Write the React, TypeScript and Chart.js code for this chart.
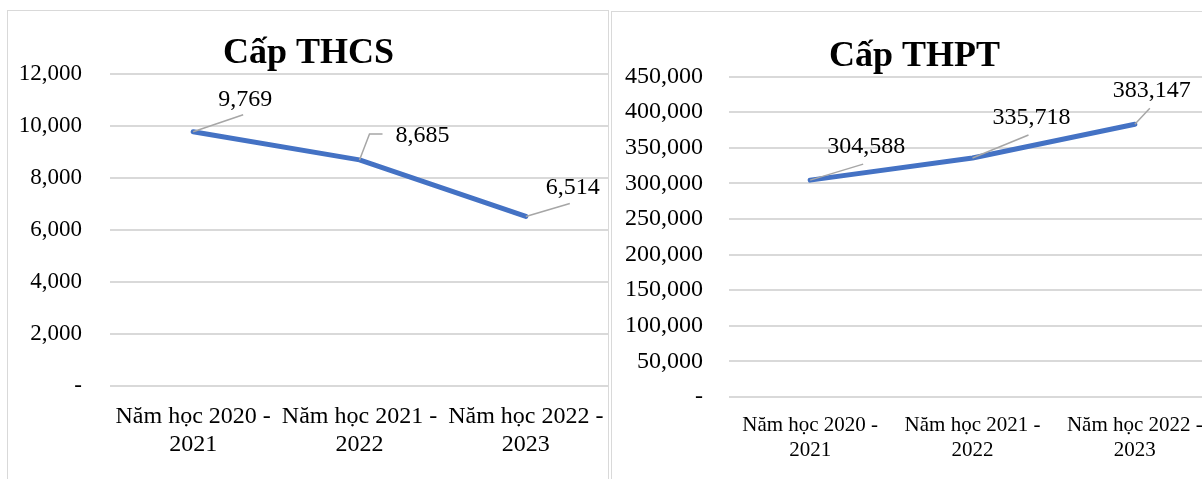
import React, { useEffect, useRef } from "react";
import { Chart, registerables } from "chart.js";

Chart.register(...registerables);

const categories: string[][] = [
  ["Năm học 2020 -", "2021"],
  ["Năm học 2021 -", "2022"],
  ["Năm học 2022 -", "2023"],
];
const thcsValues: number[] = [9769, 8685, 6514];
const thptValues: number[] = [304588, 335718, 383147];
const thcsTicks = { max: 12000, step: 2000 };
const thptTicks = { max: 450000, step: 50000 };

// label placement styles (pixel offsets from the point)
type LabelStyle = { line: number[][]; text: number[] };
const thcsLabelStyle: LabelStyle[] = [
  { line: [[50, -17]], text: [52, -32] },
  { line: [[10, -26], [23, -26]], text: [63, -24] },
  { line: [[44, -13]], text: [47, -29] },
];
const thptLabelStyle: LabelStyle[] = [
  { line: [[53, -16]], text: [56, -33] },
  { line: [[56, -23]], text: [59, -40] },
  { line: [[15, -16]], text: [17, -33] },
];

const fmt = (v: number) => (v === 0 ? "-" : v.toLocaleString("en-US"));
const SERIF = "'Liberation Serif', 'Times New Roman', serif";

function makeLabelPlugin(styles: LabelStyle[], fontSize: number) {
  return {
    id: "leaderLabels",
    afterDatasetsDraw(chart: any) {
      const ctx = chart.ctx;
      const meta = chart.getDatasetMeta(0);
      const data = chart.data.datasets[0].data as number[];
      ctx.save();
      meta.data.forEach((pt: any, i: number) => {
        const st = styles[i];
        ctx.strokeStyle = "#a6a6a6";
        ctx.lineWidth = 1.5;
        ctx.beginPath();
        ctx.moveTo(pt.x, pt.y);
        st.line.forEach((o) => ctx.lineTo(pt.x + o[0], pt.y + o[1]));
        ctx.stroke();
        ctx.fillStyle = "#000";
        ctx.font = `${fontSize}px ${SERIF}`;
        ctx.textAlign = "center";
        ctx.textBaseline = "middle";
        ctx.fillText(fmt(data[i]), pt.x + st.text[0], pt.y + st.text[1]);
      });
      ctx.restore();
    },
  };
}

type Cfg = {
  title: string;
  values: number[];
  ticks: { max: number; step: number };
  styles: LabelStyle[];
  yWidth: number;
  xHeight: number;
  titlePad: { top: number; bottom: number };
  xFont: number;
  yFont: number;
  yPad: number;
  xPad: number;
};

function LineChart(props: { cfg: Cfg; width: number; height: number }) {
  const ref = useRef<HTMLCanvasElement>(null);
  const { cfg } = props;
  useEffect(() => {
    if (!ref.current) return;
    const chart = new Chart(ref.current, {
      type: "line",
      data: {
        labels: categories,
        datasets: [
          {
            data: cfg.values,
            borderColor: "#4472c4",
            borderWidth: 5,
            pointRadius: 0,
            borderCapStyle: "round",
            borderJoinStyle: "round",
            tension: 0,
          },
        ],
      },
      options: {
        responsive: false,
        animation: false,
        layout: { padding: 0 },
        plugins: {
          legend: { display: false },
          tooltip: { enabled: false },
          title: {
            display: true,
            text: cfg.title,
            color: "#000",
            font: { family: SERIF, size: 36, weight: "bold", lineHeight: 1.1 },
            padding: cfg.titlePad,
          },
        },
        scales: {
          x: {
            offset: true,
            grid: { display: false, drawTicks: false, offset: true },
            border: { display: false },
            ticks: {
              color: "#000",
              font: { family: SERIF, size: cfg.xFont, lineHeight: 1.2 },
              padding: cfg.xPad,
              maxRotation: 0,
              autoSkip: false,
            },
            afterFit: (s: any) => {
              s.height = cfg.xHeight;
              s.paddingLeft = 0;
              s.paddingRight = 0;
            },
          },
          y: {
            min: 0,
            max: cfg.ticks.max,
            grid: { color: "#d9d9d9", lineWidth: 2, drawTicks: false },
            border: { display: false },
            ticks: {
              stepSize: cfg.ticks.step,
              color: "#000",
              font: { family: SERIF, size: cfg.yFont },
              padding: cfg.yPad,
              callback: (v: any) => fmt(Number(v)),
            },
            afterFit: (s: any) => {
              s.width = cfg.yWidth;
            },
          },
        },
      },
      plugins: [makeLabelPlugin(cfg.styles, 24)],
    } as any);
    return () => chart.destroy();
  }, []);
  return <canvas ref={ref} width={props.width} height={props.height} style={{ display: "block" }} />;
}

const thcsCfg: Cfg = {
  title: "Cấp THCS",
  values: thcsValues,
  ticks: thcsTicks,
  styles: thcsLabelStyle,
  yWidth: 102,
  xHeight: 93,
  titlePad: { top: 23, bottom: 0 },
  xFont: 24,
  yFont: 23,
  yPad: 28,
  xPad: 16,
};
const thptCfg: Cfg = {
  title: "Cấp THPT",
  values: thptValues,
  ticks: thptTicks,
  styles: thptLabelStyle,
  yWidth: 116,
  xHeight: 82,
  titlePad: { top: 24, bottom: 0 },
  xFont: 21,
  yFont: 24,
  yPad: 26,
  xPad: 16,
};

export default function App() {
  return (
    <div
      style={{
        position: "absolute",
        left: 0,
        top: 0,
        width: 1202,
        height: 479,
        overflow: "hidden",
        background: "#fff",
      }}
    >
      <div
        style={{
          position: "absolute",
          left: 7,
          top: 10,
          width: 602,
          height: 480,
          border: "1.5px solid #d9d9d9",
          boxSizing: "border-box",
        }}
      />
      <div style={{ position: "absolute", left: 8, top: 11 }}>
        <LineChart cfg={thcsCfg} width={601} height={468} />
      </div>
      <div
        style={{
          position: "absolute",
          left: 611,
          top: 11,
          width: 620,
          height: 480,
          border: "1.5px solid #d9d9d9",
          boxSizing: "border-box",
        }}
      />
      <div style={{ position: "absolute", left: 613, top: 13 }}>
        <LineChart cfg={thptCfg} width={603} height={466} />
      </div>
    </div>
  );
}
